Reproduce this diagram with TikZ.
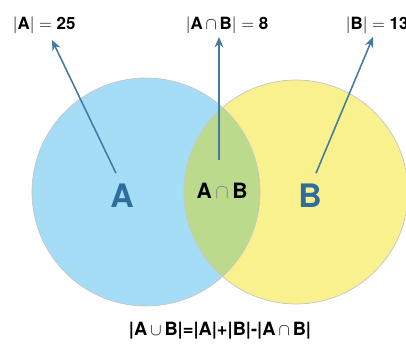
\documentclass[tikz,border=0pt]{standalone}
\usepackage{fontspec}
\setmainfont{TeX Gyre Heros}
\usetikzlibrary{arrows.meta}

\definecolor{setA}{HTML}{A6DDF6}
\definecolor{setB}{HTML}{F9F18E}
\definecolor{setAB}{HTML}{BCDA8C}
\definecolor{pointer}{HTML}{4479A0}
\definecolor{letter}{HTML}{2F6E9C}

\begin{document}
\begin{tikzpicture}[
    x=0.25mm, y=-0.25mm,
    % Style definitions
    rim/.style={draw=gray!45, line width=0.5pt},
    setlabel/.style={font=\fontsize{23}{23}\selectfont\bfseries, text=letter},
    cutlabel/.style={font=\fontsize{15}{15}\selectfont\bfseries, text=black},
    count/.style={font=\fontsize{12}{12}\selectfont\bfseries, anchor=west},
    arrow/.style={-{Stealth[length=2.6mm, width=2.2mm]}, line width=1.1pt, draw=pointer},
]
\useasboundingbox (0,0) rectangle (406,351);

% Circles
\fill[setA] (146,192) circle (114);
\fill[setB] (296,192) circle (112);
\begin{scope}
    \clip (146,192) circle (114);
    \fill[setAB] (296,192) circle (112);
\end{scope}
\draw[rim] (146,192) circle (114);
\draw[rim] (296,192) circle (112);

% Labels inside
\node[setlabel] (a) at (122,196) {A};
\node[cutlabel] (ab) at (222,191) {A\,{\color{gray}$\cap$}\,B};
\node[setlabel] (b) at (310,196) {B};

% Counts on top
\node[count] (na) at (8,25) {$\big|$A$\big|=$ 25};
\node[count] (nab) at (181,25) {$\big|$A\,$\cap$\,B$\big|=$ 8};
\node[count] (nb) at (341,25) {$\big|$B$\big|=$ 13};

% Arrows
\draw[arrow] (a.north) ++(-6,-6) coordinate (ta) -- (52,40);
\draw[arrow] (219,160) coordinate (tab) -- (219,37);
\draw[arrow] (b.north) ++(6,-6) coordinate (tb) -- (373,37);

% Formula
\node[font=\fontsize{13}{13}\selectfont\bfseries] (rule) at (220,331)
    {|A\,$\cup$\,B|=|A|+|B|-|A\,$\cap$\,B|};

\end{tikzpicture}
\end{document}
